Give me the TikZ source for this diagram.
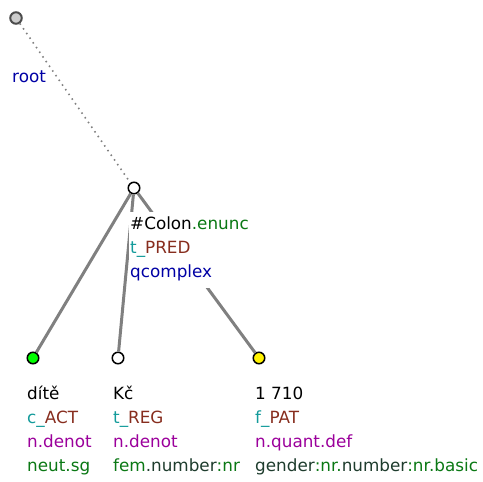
\documentclass[tikz,border=0pt]{standalone}
\usepackage{fontspec}
\setmainfont{DejaVu Sans}
\definecolor{tealc}{RGB}{20,155,155}
\definecolor{brownc}{RGB}{135,45,30}
\definecolor{bluec}{RGB}{0,0,165}
\definecolor{purplec}{RGB}{155,0,155}
\definecolor{greenc}{RGB}{10,120,20}
\definecolor{darkc}{RGB}{30,60,45}
\definecolor{edgec}{RGB}{128,128,128}
\begin{document}
\begin{tikzpicture}[x=1pt,y=-1pt,
  tnode/.style={circle, draw=black, line width=1.5pt, minimum size=11.5pt, inner sep=0pt},
  lbl/.style={anchor=base west, inner sep=0pt, font=\fontsize{16.8}{20}\selectfont},
  treeedge/.style={draw=edgec, line width=3pt},
  rootedge/.style={draw=edgec, line width=1.6pt, dash pattern=on 1.5pt off 4.2pt}]
\useasboundingbox (0,0) rectangle (483,482);
% tree nodes
\node[tnode, fill=gray!40, draw=black!70, line width=2pt] (root) at (16,18) {};
\node[tnode, fill=white] (colon) at (134,188) {};
\node[tnode, fill=green] (dite) at (33,358) {};
\node[tnode, fill=white] (kc) at (118,358) {};
\node[tnode, fill=yellow] (num) at (259,358) {};
% edges
\draw[rootedge] (root) -- (colon);
\draw[treeedge] (colon) -- (dite);
\draw[treeedge] (colon) -- (kc);
\draw[treeedge] (colon) -- (num);
% label box of the #Colon node
\node[fill=white, inner sep=0pt, minimum width=119pt, minimum height=76pt, anchor=north west] (colonbox) at (129,212) {};
% labels
\node[lbl, text=bluec] (rootlbl) at (12,82) {root};
\node[lbl] (c1) at (130,229) {\#Colon\textcolor{greenc}{.enunc}};
\node[lbl] (c2) at (130,253) {\textcolor{tealc}{t\_}\textcolor{brownc}{PRED}};
\node[lbl, text=bluec] (c3) at (130,277) {qcomplex};
\node[lbl] (d1) at (27,399) {dítě};
\node[lbl] (d2) at (27,423) {\textcolor{tealc}{c\_}\textcolor{brownc}{ACT}};
\node[lbl, text=purplec] (d3) at (27,447) {n.denot};
\node[lbl, text=greenc] (d4) at (27,471) {neut.sg};
\node[lbl] (k1) at (113,399) {Kč};
\node[lbl] (k2) at (113,423) {\textcolor{tealc}{t\_}\textcolor{brownc}{REG}};
\node[lbl, text=purplec] (k3) at (113,447) {n.denot};
\node[lbl] (k4) at (113,471) {\textcolor{greenc}{fem}\textcolor{darkc}{.number}\textcolor{greenc}{:nr}};
\node[lbl] (n1) at (255,399) {1 710};
\node[lbl] (n2) at (255,423) {\textcolor{tealc}{f\_}\textcolor{brownc}{PAT}};
\node[lbl, text=purplec] (n3) at (255,447) {n.quant.def};
\node[lbl] (n4) at (255,471) {\textcolor{darkc}{gender}\textcolor{greenc}{:nr.}\textcolor{darkc}{number}\textcolor{greenc}{:nr.basic}};
\end{tikzpicture}
\end{document}
